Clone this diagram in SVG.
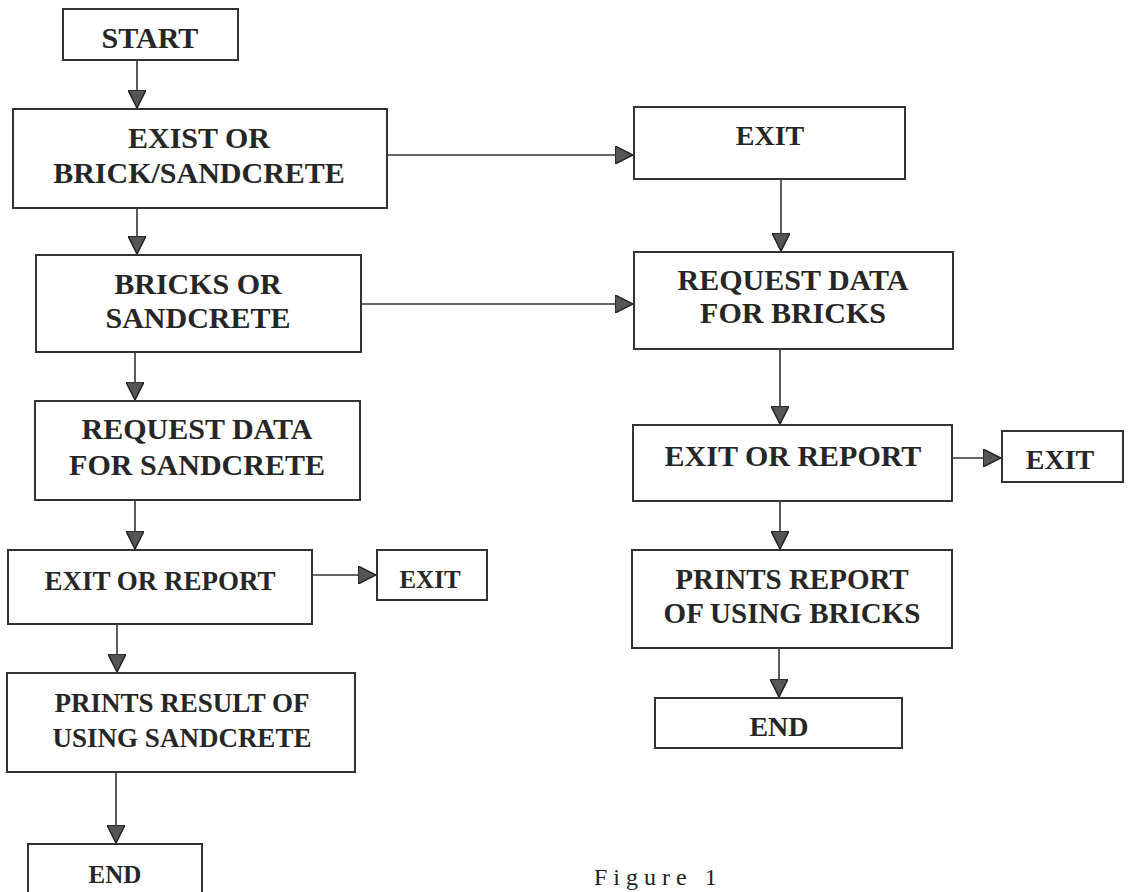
<svg xmlns="http://www.w3.org/2000/svg" width="1132" height="892" viewBox="0 0 1132 892">
<style>
.box{fill:#fff;stroke:#333;stroke-width:2}
.t{font-family:"Liberation Serif","Times New Roman",serif;font-weight:bold;font-size:30px;fill:#262626;text-anchor:middle}
.s{font-size:27px}
.c{stroke:#333;stroke-width:1.6;fill:none;marker-end:url(#ah)}
.cap{font-family:"Liberation Serif","Times New Roman",serif;font-size:24px;fill:#222}
</style>
<defs>
<marker id="ah" viewBox="0 0 18 18" refX="18" refY="9" markerWidth="18" markerHeight="18" markerUnits="userSpaceOnUse" orient="auto">
<path d="M0,0 L18,9 L0,18 Z" fill="#555" stroke="#222" stroke-width="1.5"/>
</marker>
</defs>
<rect width="1132" height="892" fill="#fff"/>
<g id="connectors">
<line class="c" x1="137" y1="60" x2="137" y2="108"/>
<line class="c" x1="137" y1="208" x2="137" y2="254"/>
<line class="c" x1="135" y1="352" x2="135" y2="400"/>
<line class="c" x1="135" y1="500" x2="135" y2="549"/>
<line class="c" x1="312" y1="575" x2="376" y2="575"/>
<line class="c" x1="117" y1="624" x2="117" y2="672"/>
<line class="c" x1="116" y1="772" x2="116" y2="843"/>
<line class="c" x1="387" y1="155" x2="633" y2="155"/>
<line class="c" x1="361" y1="304" x2="633" y2="304"/>
<line class="c" x1="781" y1="179" x2="781" y2="251"/>
<line class="c" x1="780" y1="349" x2="780" y2="424"/>
<line class="c" x1="952" y1="458" x2="1001" y2="458"/>
<line class="c" x1="780" y1="501" x2="780" y2="549"/>
<line class="c" x1="779" y1="648" x2="779" y2="697"/>
</g>
<g id="start"><rect class="box" x="63" y="9" width="175" height="51"/><text class="t" x="150" y="48">START</text></g>
<g id="exist"><rect class="box" x="13" y="109" width="374" height="99"/><text class="t" x="199" y="148">EXIST OR</text><text class="t" x="199" y="183">BRICK/SANDCRETE</text></g>
<g id="bricks-or-sandcrete"><rect class="box" x="36" y="255" width="325" height="97"/><text class="t" x="198" y="294">BRICKS OR</text><text class="t" x="198" y="328">SANDCRETE</text></g>
<g id="request-sandcrete"><rect class="box" x="35" y="401" width="325" height="99"/><text class="t" x="197" y="439">REQUEST DATA</text><text class="t" x="197" y="475">FOR SANDCRETE</text></g>
<g id="exit-or-report-left"><rect class="box" x="8" y="550" width="304" height="74"/><text class="t s" x="160" y="590">EXIT OR REPORT</text></g>
<g id="exit-left"><rect class="box" x="377" y="550" width="110" height="50"/><text class="t" x="430" y="588" style="font-size:25px">EXIT</text></g>
<g id="prints-result"><rect class="box" x="7" y="673" width="348" height="99"/><text class="t s" x="182" y="712">PRINTS RESULT OF</text><text class="t s" x="182" y="747">USING SANDCRETE</text></g>
<g id="end-left"><rect class="box" x="28" y="844" width="174" height="60"/><text class="t" x="115" y="883" style="font-size:25px">END</text></g>
<g id="exit-top"><rect class="box" x="634" y="107" width="271" height="72"/><text class="t" x="770" y="145" style="font-size:28px">EXIT</text></g>
<g id="request-bricks"><rect class="box" x="634" y="252" width="319" height="97"/><text class="t" x="793" y="290">REQUEST DATA</text><text class="t" x="793" y="323">FOR BRICKS</text></g>
<g id="exit-or-report-right"><rect class="box" x="633" y="425" width="319" height="76"/><text class="t" x="793" y="466">EXIT OR REPORT</text></g>
<g id="exit-right"><rect class="box" x="1002" y="431" width="121" height="51"/><text class="t" x="1060" y="469" style="font-size:28px">EXIT</text></g>
<g id="prints-report"><rect class="box" x="632" y="550" width="320" height="98"/><text class="t" x="792" y="589" style="font-size:29px">PRINTS REPORT</text><text class="t" x="792" y="623" style="font-size:29px">OF USING BRICKS</text></g>
<g id="end-right"><rect class="box" x="655" y="698" width="247" height="50"/><text class="t" x="779" y="736" style="font-size:28px">END</text></g>
<text class="cap" x="594" y="885" letter-spacing="6">Figure 1</text>
</svg>
